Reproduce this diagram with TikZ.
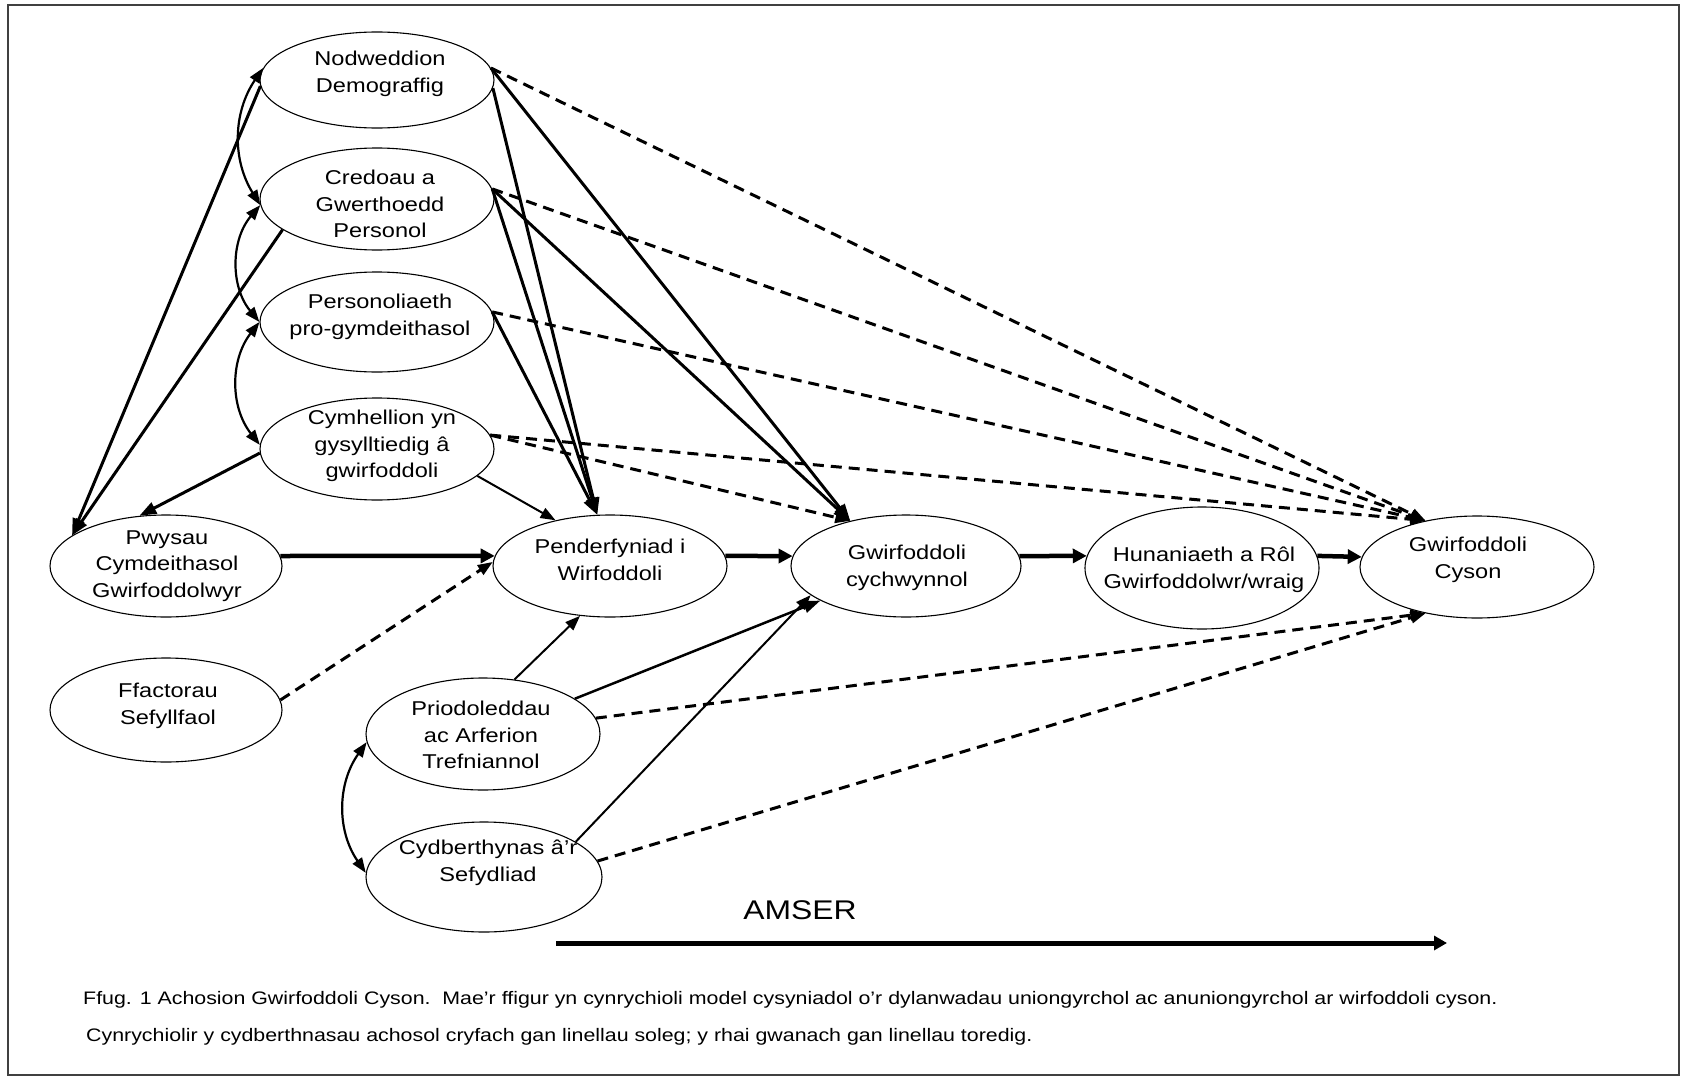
\documentclass[tikz,border=0pt]{standalone}
\usepackage{fontspec}
\setmainfont{Liberation Sans}[FakeStretch=1.18]
\usetikzlibrary{shapes.geometric,arrows.meta}
\begin{document}
\begin{tikzpicture}[x=1pt,y=-1pt,
  ell/.style={draw, ellipse, inner sep=0pt, line width=1.1pt},
  lbl/.style={align=center, inner sep=0pt, font=\fontsize{20}{26.5}\selectfont},
  strong/.style={-{Triangle[length=17pt,width=12pt]}, line width=3pt},
  weak/.style={-{Triangle[length=15pt,width=11pt]}, line width=2pt},
  mainarrow/.style={-{Triangle[length=14pt,width=14pt]}, line width=4.5pt},
  dashline/.style={-{Triangle[length=15pt,width=11pt]}, line width=3pt, dash pattern=on 11pt off 7pt},
  corr/.style={{Triangle[length=15pt,width=11pt]}-{Triangle[length=15pt,width=11pt]}, line width=2.2pt},
  captxt/.style={anchor=west, inner sep=0pt, font=\fontsize{18.1}{20}\selectfont},
]
\useasboundingbox (0,0) rectangle (1687,1081);
\fill[white] (0,0) rectangle (1687,1081);
\draw[line width=1.5pt, black!75] (8,5) rectangle (1679,1075);

% ellipses
\node[ell, minimum width=234pt, minimum height=96pt] (N) at (377,80) {};
\node[lbl] (Nt) at (380,74) {Nodweddion\\Demograffig};
\node[ell, minimum width=234pt, minimum height=102pt] (C) at (377,199) {};
\node[lbl] (Ct) at (380,204) {Credoau a\\Gwerthoedd\\Personol};
\node[ell, minimum width=234pt, minimum height=100pt] (P) at (377,322) {};
\node[lbl] (Pt) at (380,317) {Personoliaeth\\pro-gymdeithasol};
\node[ell, minimum width=234pt, minimum height=102pt] (M) at (377,449) {};
\node[lbl] (Mt) at (382,446) {Cymhellion yn\\gysylltiedig â\\gwirfoddoli};
\node[ell, minimum width=232pt, minimum height=102pt] (W) at (166,566) {};
\node[lbl] (Wt) at (167,566) {Pwysau\\Cymdeithasol\\Gwirfoddolwyr};
\node[ell, minimum width=232pt, minimum height=104pt] (F) at (166,710) {};
\node[lbl] (Ft) at (168,706) {Ffactorau\\Sefyllfaol};
\node[ell, minimum width=234pt, minimum height=102pt] (D) at (610,566) {};
\node[lbl] (Dt) at (610,560) {Penderfyniad i\\Wirfoddoli};
\node[ell, minimum width=230pt, minimum height=102pt] (G) at (906,566) {};
\node[lbl] (Gt) at (907,568) {Gwirfoddoli\\cychwynnol};
\node[ell, minimum width=234pt, minimum height=122pt] (H) at (1202,568) {};
\node[lbl] (Ht) at (1204,570) {Hunaniaeth a Rôl\\Gwirfoddolwr/wraig};
\node[ell, minimum width=234pt, minimum height=102pt] (S) at (1477,567) {};
\node[lbl] (St) at (1468,560) {Gwirfoddoli\\Cyson};
\node[ell, minimum width=234pt, minimum height=112pt] (A) at (483,734) {};
\node[lbl] (At) at (481,735) {Priodoleddau\\ac Arferion\\Trefniannol};
\node[ell, minimum width=236pt, minimum height=110pt] (R) at (484,877) {};
\node[lbl] (Rt) at (488,863) {Cydberthynas â’r\\Sefydliad};

% solid (stronger) connectors
\draw[strong] (N.183) -- (W.162);
\draw[strong] (C.198) -- (W.162);
\draw[strong] (M.182) -- (W.118);
\draw[strong] (N.-4) -- (D.104);
\draw[strong] (C.5) -- (D.104);
\draw[strong] (P.5) -- (D.104);
\draw[strong] (N.6) -- (G.141);
\draw[strong] (C.5) -- (G.141);
\draw[weak] (M.-15) -- (D.140);
\draw[mainarrow] (W.5) -- (D.175);
\draw[mainarrow] (D.5) -- (G.175);
\draw[mainarrow] (G.5) -- (H.174);
\draw[mainarrow] (H.6) -- (S.175);
\draw[weak] (A.60) -- (D.-121);
\draw[strong, line width=2.5pt] (A.21) -- (G.-158);
\draw[weak] (R.21) -- (G.-163);

% dashed (weaker) connectors
\draw[dashline] (N.6) -- (S.138);
\draw[dashline] (C.5) -- (S.138);
\draw[dashline] (P.5) -- (S.138);
\draw[dashline] (M.7) -- (S.138);
\draw[dashline] (M.7) -- (G.141);
\draw[dashline] (F.5) -- (D.178);
\draw[dashline] (A.8) -- (S.-138);
\draw[dashline] (R.8) -- (S.-138);

% correlations
\draw[corr] (N.174) to[bend right=33] (C.183);
\draw[corr] (C.183) to[bend right=40] (P.180);
\draw[corr] (P.180) to[bend right=38] (M.178);
\draw[corr] (A.184) to[bend right=35] (R.178);

% time arrow
\node[inner sep=0pt, font=\fontsize{27}{32}\selectfont] (amser) at (800,910) {AMSER};
\coordinate (t0) at (556,943);
\coordinate (t1) at (1447,943);
\draw[line width=5pt, -{Triangle[length=13pt,width=14pt]}] (t0) -- (t1);

% caption
\node[captxt] (cap1) at (83,1000) {Ffug. 1 Achosion Gwirfoddoli Cyson.\ \ Mae’r ffigur yn cynrychioli model cysyniadol o’r dylanwadau uniongyrchol ac anuniongyrchol ar wirfoddoli cyson.};
\node[captxt] (cap2) at (86,1037) {Cynrychiolir y cydberthnasau achosol cryfach gan linellau soleg; y rhai gwanach gan linellau toredig.};
\end{tikzpicture}
\end{document}
